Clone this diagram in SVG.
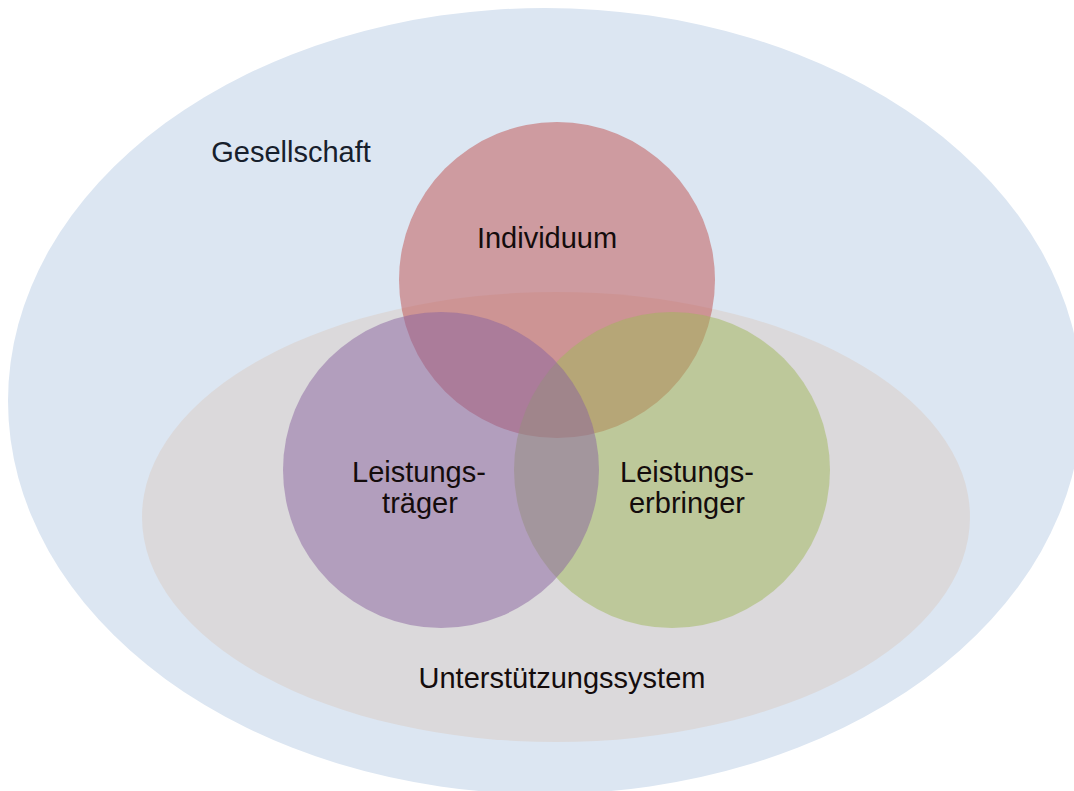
<svg xmlns="http://www.w3.org/2000/svg" width="1074" height="791" viewBox="0 0 1074 791">
<style>
.t{font-family:"Liberation Sans",Arial,sans-serif;font-size:29px;fill:#140c0c;text-anchor:middle}
.c{opacity:0.5}
</style>
<rect width="1074" height="791" fill="#ffffff"/>
<g id="gesellschaft">
<ellipse cx="545" cy="401" rx="537" ry="393" fill="#dce6f2"/>
<text class="t" x="291" y="162" style="fill:#17202c">Gesellschaft</text>
</g>
<g id="unterstuetzungssystem">
<ellipse cx="556" cy="517" rx="414" ry="225" fill="#dbd9db"/>
<text class="t" x="562" y="688">Unterstützungssystem</text>
</g>
<g id="individuum">
<circle class="c" cx="557" cy="280" r="158" fill="#c0504d"/>
</g>
<g id="leistungserbringer">
<circle class="c" cx="672" cy="470" r="158" fill="#a0b85a"/>
</g>
<g id="leistungstraeger">
<circle class="c" cx="441" cy="470" r="158" fill="#8a64a0"/>
</g>
<g id="labels">
<text class="t" x="547" y="248">Individuum</text>
<text class="t" x="419" y="482">Leistungs-</text>
<text class="t" x="420" y="513">träger</text>
<text class="t" x="687" y="482">Leistungs-</text>
<text class="t" x="687" y="513">erbringer</text>
</g>
<g id="connectors"/>
</svg>
